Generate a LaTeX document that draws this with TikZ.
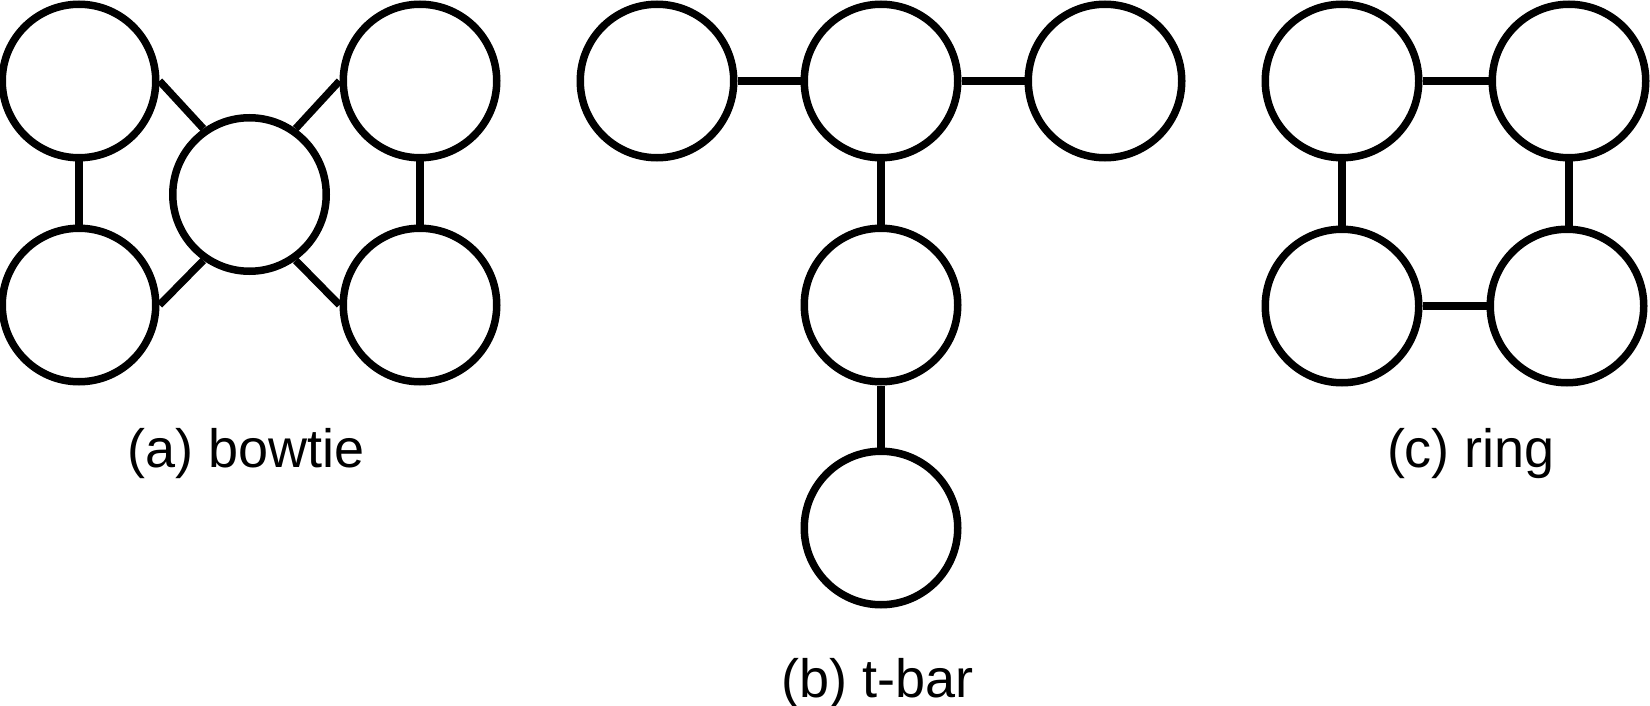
\documentclass[tikz,border=0pt]{standalone}
\usepackage{fontspec}
\setmainfont{Liberation Sans}
\usepackage{tikz}

\begin{document}
\begin{tikzpicture}[x=0.5pt, y=-0.5pt,
    vertex/.style={circle, draw, line width=3.75pt, minimum size=76.75pt, inner sep=0pt},
    link/.style={line width=3.7pt},
    caption/.style={anchor=base, inner sep=0pt, font=\fontsize{27}{32}\selectfont}]
    \useasboundingbox (0,0) rectangle (1650,706);
    \def\top{81}
    \def\low{305}
    % bowtie
    \node[vertex] (bowTL) at (79,\top) {};
    \node[vertex] (bowBL) at (79,\low) {};
    \node[vertex] (bowMid) at (249.5,194.5) {};
    \node[vertex] (bowTR) at (420,\top) {};
    \node[vertex] (bowBR) at (420,\low) {};
    \draw[link] (bowTL.south) -- (bowBL.north);
    \draw[link] (bowTR.south) -- (bowBR.north);
    \draw[link] (bowTL.east) -- (bowMid.125);
    \draw[link] (bowBL.east) -- (bowMid.235);
    \draw[link] (bowTR.west) -- (bowMid.55);
    \draw[link] (bowBR.west) -- (bowMid.305);
    \node[caption] (capA) at (246,467) {(a) bowtie};
    % t-bar
    \node[vertex] (barL) at (657,\top) {};
    \node[vertex] (barC) at (881,\top) {};
    \node[vertex] (barR) at (1105,\top) {};
    \node[vertex] (barM) at (881,\low) {};
    \node[vertex] (barB) at (881,528) {};
    \draw[link] (barL.east) -- (barC.west);
    \draw[link] (barC.east) -- (barR.west);
    \draw[link] (barC.south) -- (barM.north);
    \draw[link] (barM.south) -- (barB.north);
    \node[caption] (capB) at (878,697) {(b) t-bar};
    % ring
    \node[vertex] (ringTL) at (1342,\top) {};
    \node[vertex] (ringTR) at (1569,\top) {};
    \node[vertex] (ringBL) at (1342,306) {};
    \node[vertex] (ringBR) at (1567,306) {};
    \draw[link] (ringTL.east) -- (ringTR.west);
    \draw[link] (ringBL.east) -- (ringBR.west);
    \draw[link] (ringTL.south) -- (ringBL.north);
    \draw[link] (ringTR.south) -- (ringTR.south |- ringBR.north);
    \node[caption] (capC) at (1471,467) {(c) ring};
\end{tikzpicture}
\end{document}
